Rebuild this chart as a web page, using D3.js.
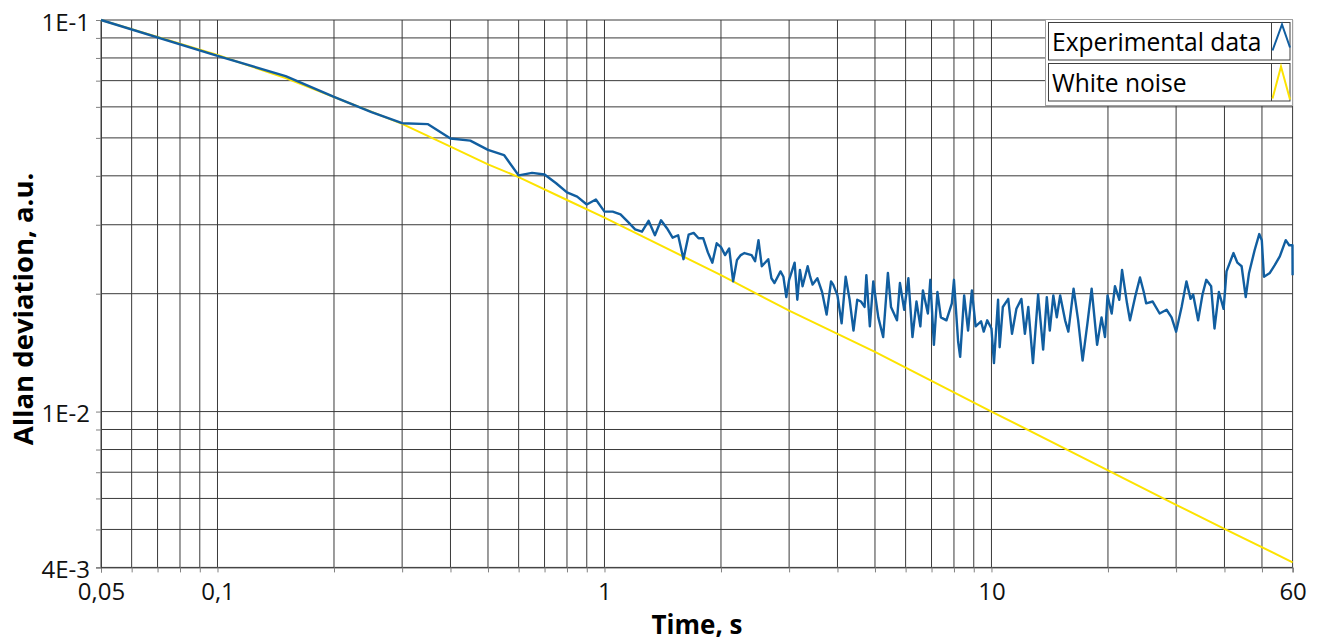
<!DOCTYPE html>
<html><head><meta charset="utf-8">
<script src="https://cdn.jsdelivr.net/npm/d3@7"></script>
<style>
body{margin:0;background:#fff;}
text{font-family:"Open Sans",sans-serif;}
</style></head><body>
<svg id="c" width="1324" height="642"></svg>
<script>
const xTickValues=[0.05,0.1,1,10,60];
const xTickLabels=["0,05","0,1","1","10","60"];
const yTickValues=[0.1,0.01,0.004];
const yTickLabels=["1E-1","1E-2","4E-3"];
const xGrid=[0.05,0.06,0.07,0.08,0.09,0.1,0.2,0.3,0.4,0.5,0.6,0.7,0.8,0.9,1,2,3,4,5,6,7,8,9,10,20,30,40,50,60];
const yGrid=[0.004,0.005,0.006,0.007,0.008,0.009,0.01,0.02,0.03,0.04,0.05,0.06,0.07,0.08,0.09,0.1];
const seriesNames=["Experimental data","White noise"];
const seriesColors=["#115ea0","#fde300"];

const whiteTau=[0.05,0.1,0.15,0.2,0.3,0.4,0.5,0.6,0.8,1,2,3,5,10,20,30,40,60];
const whiteSigma=[0.1,0.0814,0.0711,0.0636,0.0543,0.0475,0.0428,0.0397,0.0347,0.0313,0.0223,0.0181,0.0142,0.0100,0.00708,0.00578,0.00502,0.00412];

const expTau=[0.05,0.1,0.15,0.2,0.25,0.3,0.35,0.4,0.45,0.5,0.55,0.6,0.65,0.7,0.75,0.8,0.85,0.9,0.95,1.0,
1.05,1.1,1.15,1.2,1.25,1.3,1.35,1.4,1.45,1.5,1.55,1.6,1.65,1.7,1.75,1.8,1.85,1.9,
1.95,2.0,2.05,2.1,2.15,2.2,2.25,2.3,2.4,2.45,2.5,2.55,2.65,2.7,2.75,2.85,2.9,2.95,
3.0,3.1,3.15,3.2,3.25,3.35,3.4,3.45,3.55,3.65,3.75,3.85,3.9,4.0,
4.1,4.2,4.3,4.4,4.5,4.6,4.7,4.75,4.85,4.95,5.1,5.25,5.4,5.5,5.7,5.8,5.95,
6.1,6.25,6.4,6.55,6.65,6.85,6.95,7.1,7.25,7.4,7.65,7.9,8.0,8.2,8.3,8.5,8.7,8.9,9.1,9.4,9.55,9.75,
10.0,10.15,10.4,10.5,10.7,11.05,11.3,11.6,11.95,12.2,12.45,12.8,13.2,13.6,13.9,14.15,14.45,14.75,15.05,15.5,15.8,
16.3,16.75,17.2,17.7,18.15,18.75,19.25,19.65,19.95,20.45,20.85,21.4,21.75,22.4,22.8,23.5,24.2,24.75,25.1,26.1,27.2,28.35,29.2,
30.0,31.0,31.9,32.7,33.2,34.2,35.1,35.9,36.95,37.7,38.7,39.8,40.5,42.2,43.2,44.3,45.4,46.3,47.9,49.2,49.95,50.6,52.4,54.0,55.6,57.6,58.8,59.95,60];
const expSigma=[0.1,0.081,0.0719,0.0636,0.0582,0.0545,0.0542,0.0498,0.0492,0.0466,0.0452,0.0401,0.0407,0.0403,0.0383,0.0363,0.0354,0.0338,0.0348,0.0324,
0.0324,0.0319,0.0305,0.0292,0.0288,0.0307,0.0282,0.0308,0.0294,0.0278,0.0282,0.0245,0.0283,0.0286,0.0277,0.0277,0.0255,0.0240,
0.0269,0.0263,0.0251,0.0261,0.0215,0.0244,0.0251,0.0254,0.0251,0.0242,0.0274,0.0235,0.0245,0.0219,0.0213,0.0228,0.0221,0.0196,
0.0217,0.0240,0.0193,0.0230,0.0209,0.0235,0.0221,0.0211,0.0219,0.0202,0.0177,0.0215,0.0211,0.0198,
0.0168,0.0221,0.0193,0.0161,0.0193,0.0191,0.0185,0.0223,0.0165,0.0215,0.0174,0.0155,0.0226,0.0185,0.0171,0.0213,0.0182,
0.0219,0.0155,0.0191,0.0165,0.0204,0.0178,0.0217,0.0148,0.0202,0.0174,0.0171,0.0189,0.0217,0.0151,0.0138,0.0198,0.0161,0.0204,0.0165,0.0170,0.0160,0.0171,
0.0163,0.0133,0.0193,0.0146,0.0185,0.0194,0.0158,0.0183,0.0194,0.0158,0.0185,0.0133,0.0199,0.0144,0.0196,0.0161,0.0198,0.0174,0.0198,0.0171,0.0160,
0.0206,0.0171,0.0135,0.0168,0.0206,0.0148,0.0174,0.0155,0.0198,0.0178,0.0209,0.0193,0.0230,0.0189,0.0171,0.0196,0.0220,0.0202,0.0189,0.0191,0.0178,0.0182,0.0174,
0.0160,0.0185,0.0215,0.0194,0.0199,0.0171,0.0199,0.0217,0.0209,0.0163,0.0202,0.0183,0.0228,0.0254,0.0240,0.0235,0.0196,0.0226,0.0259,0.0284,0.0274,0.0221,0.0226,0.0237,0.0249,0.0274,0.0266,0.0266,0.0223];

const W=1324,H=642;
const m={left:101,top:20,right:1292.6,bottom:567.4};
const svg=d3.select("#c");
const x=d3.scaleLog().domain([0.05,60]).range([m.left,m.right]);
const y=d3.scaleLog().domain([0.004,0.1]).range([m.bottom,m.top]);

// grid
const g=svg.append("g");
g.selectAll("line.vx").data(xGrid).join("line")
 .attr("x1",d=>x(d)).attr("x2",d=>x(d)).attr("y1",m.top).attr("y2",m.bottom)
 .attr("stroke","#3a3a3a").attr("stroke-width",1);
g.selectAll("line.hy").data(yGrid).join("line")
 .attr("y1",d=>y(d)).attr("y2",d=>y(d)).attr("x1",m.left).attr("x2",m.right)
 .attr("stroke","#3a3a3a").attr("stroke-width",1);

// axes ticks
const xAxis=d3.axisBottom(x).tickValues(xGrid).tickSize(5).tickFormat(d=>{const i=xTickValues.indexOf(d);return i>=0?xTickLabels[i]:"";});
const ax=svg.append("g").attr("transform",`translate(0,${m.bottom})`).call(xAxis);
ax.select(".domain").attr("stroke","#404040");
ax.selectAll(".tick line").attr("stroke","#808080");
ax.selectAll(".tick text").attr("font-size",24).attr("fill","#111").attr("font-family","Open Sans").attr("dy","0.72em").attr("y",15);

const yAxis=d3.axisLeft(y).tickValues(yGrid).tickSize(5).tickFormat(d=>{const i=yTickValues.findIndex(v=>Math.abs(v-d)<1e-9);return i>=0?yTickLabels[i]:"";});
const ay=svg.append("g").attr("transform",`translate(${m.left},0)`).call(yAxis);
ay.select(".domain").attr("stroke","#404040");
ay.selectAll(".tick line").attr("stroke","#808080");
ay.selectAll(".tick text").attr("font-size",24).attr("fill","#111").attr("font-family","Open Sans").attr("x",-11).attr("dy","0.42em");

// lines
const line=d3.line().x(d=>x(d[0])).y(d=>y(d[1]));
svg.append("path").datum(whiteTau.map((t,i)=>[t,whiteSigma[i]]))
 .attr("d",line).attr("fill","none").attr("stroke",seriesColors[1]).attr("stroke-width",2);
svg.append("path").datum(expTau.map((t,i)=>[t,expSigma[i]]))
 .attr("d",line).attr("fill","none").attr("stroke",seriesColors[0]).attr("stroke-width",2.4).attr("stroke-linejoin","round");

// axis titles
svg.append("text").attr("x",697).attr("y",634).attr("text-anchor","middle")
 .attr("font-size",26).attr("font-weight","bold").attr("fill","#000").text("Time, s");
svg.append("text").attr("transform","translate(33,309) rotate(-90)").attr("text-anchor","middle")
 .attr("font-size",27.5).attr("font-weight","bold").attr("fill","#000").text("Allan deviation, a.u.");

// legend
const lg=svg.append("g");
lg.append("rect").attr("x",1045.5).attr("y",19.5).attr("width",247).attr("height",86).attr("fill","#fff").attr("stroke","#a0a0a0");
const symbolPaths=[
  top=>`M1272.5,${top+28}L1282,${top+2}L1290,${top+25}`,
  top=>`M1272.5,${top+35}L1281,${top+3}L1290,${top+36}`
];
seriesNames.forEach((name,i)=>{
  const top=22.5+i*41;
  lg.append("rect").attr("x",1048.5).attr("y",top).attr("width",241.5).attr("height",37.5).attr("fill","#fff").attr("stroke","#404040");
  lg.append("line").attr("x1",1271.5).attr("x2",1271.5).attr("y1",top).attr("y2",top+37.5).attr("stroke","#404040");
  lg.append("text").attr("x",1052).attr("y",top+28).attr("font-size",24.6).attr("fill","#000").text(name);
  lg.append("path").attr("d",symbolPaths[i](top)).attr("fill","none").attr("stroke",seriesColors[i]).attr("stroke-width",2);
});
</script></body></html>
